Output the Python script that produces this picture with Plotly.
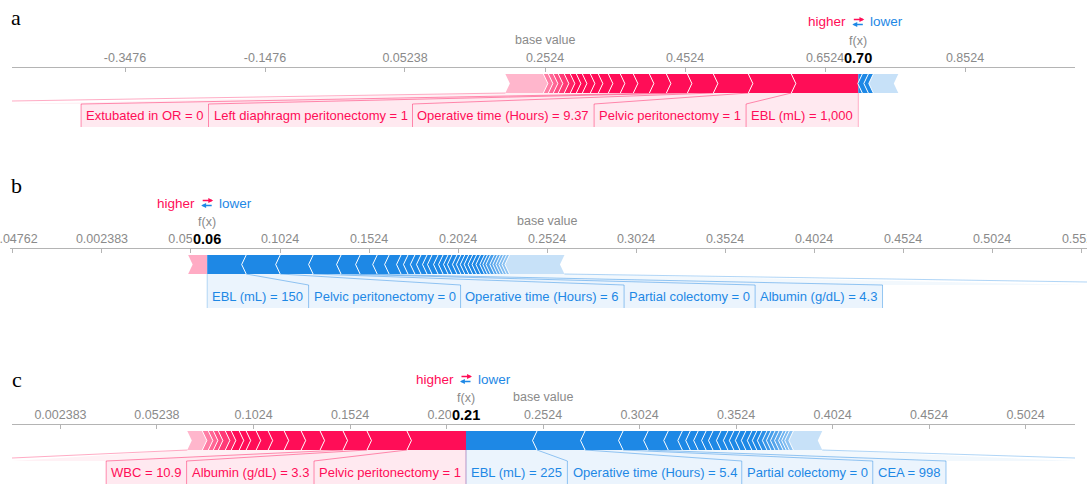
import plotly.graph_objects as go

# ---------------- data ----------------
# panel a
a_base_value = 0.2524
a_fx = 0.70
a_tick_values = [-0.3476, -0.1476, 0.05238, 0.2524, 0.4524, 0.6524, 0.8524]
a_tick_labels = ["-0.3476", "-0.1476", "0.05238", "0.2524", "0.4524", "0.6524", "0.8524"]
a_higher_labels = ["EBL (mL) = 1,000", "Pelvic peritonectomy = 1", "Operative time (Hours) = 9.37",
                   "Left diaphragm peritonectomy = 1", "Extubated in OR = 0"]
a_higher_values = [0.0957, 0.0614, 0.0500, 0.0371, 0.0300, 0.0243, 0.0229, 0.0186, 0.0171, 0.0143,
                   0.0114, 0.0114, 0.0086, 0.0086, 0.0086, 0.0086, 0.0071, 0.0071, 0.0071]
a_higher_other = 0.0543
a_lower_labels = []
a_lower_values = [0.0057, 0.0086, 0.0071]
a_lower_other = 0.0357

# panel b
b_base_value = 0.2524
b_fx = 0.0615
b_tick_values = [-0.04762, 0.002383, 0.05238, 0.1024, 0.1524, 0.2024, 0.2524, 0.3024, 0.3524,
                 0.4024, 0.4524, 0.5024, 0.5524]
b_tick_labels = ["-0.04762", "0.002383", "0.05238", "0.1024", "0.1524", "0.2024", "0.2524", "0.3024",
                 "0.3524", "0.4024", "0.4524", "0.5024", "0.5524"]
b_higher_labels = []
b_higher_values = []
b_higher_other = 0.0107
b_lower_labels = ["EBL (mL) = 150", "Pelvic peritonectomy = 0", "Operative time (Hours) = 6",
                  "Partial colectomy = 0", "Albumin (g/dL) = 4.3"]
b_lower_values = [0.0219, 0.0191, 0.0185, 0.0157, 0.0107, 0.0096, 0.0067, 0.0067, 0.0039, 0.0039,
                  0.0034, 0.0034, 0.0028, 0.0034, 0.0028, 0.0028, 0.0022, 0.0028, 0.0022, 0.0022,
                  0.0022, 0.0022, 0.0022, 0.0022, 0.0022, 0.0017, 0.0017, 0.0022, 0.0017, 0.0017,
                  0.0017, 0.0017, 0.0017]
b_lower_other = 0.0309

# panel c
c_base_value = 0.2524
c_fx = 0.2125
c_tick_values = [0.002383, 0.05238, 0.1024, 0.1524, 0.2024, 0.2524, 0.3024, 0.3524, 0.4024, 0.4524, 0.5024]
c_tick_labels = ["0.002383", "0.05238", "0.1024", "0.1524", "0.2024", "0.2524", "0.3024", "0.3524",
                 "0.4024", "0.4524", "0.5024"]
c_higher_labels = ["Pelvic peritonectomy = 1", "Albumin (g/dL) = 3.3", "WBC = 10.9"]
c_higher_values = [0.0306, 0.0207, 0.0124, 0.0119, 0.0098, 0.0088, 0.0083, 0.0062, 0.0052, 0.0036,
                   0.0041, 0.0031, 0.0036, 0.0026, 0.0026, 0.0031]
c_higher_other = 0.0078
c_lower_labels = ["EBL (mL) = 225", "Operative time (Hours) = 5.4", "Partial colectomy = 0", "CEA = 998"]
c_lower_values = [0.0368, 0.0249, 0.0197, 0.0130, 0.0104, 0.0073, 0.0041, 0.0041, 0.0041, 0.0036,
                  0.0041, 0.0036, 0.0031, 0.0031, 0.0031, 0.0031, 0.0026, 0.0026, 0.0026, 0.0021,
                  0.0021, 0.0021, 0.0021, 0.0016, 0.0016, 0.0021]
c_lower_other = 0.0150

panel_letters = ["a", "b", "c"]

# ---------------- style / layout ----------------
W, H = 1087, 485
RED = (255, 13, 87)
BLUE = (30, 136, 229)
FONT = "Liberation Sans, Arial, Helvetica, sans-serif"
LABEL_SIZE = 13
TIP = 4.5           # chevron depth in px
BAR_TOP, BAR_BOT = 6, 25
BAR_MID = (BAR_TOP + BAR_BOT) / 2
LAB_TOP, LAB_BOT, LAB_MID = 36, 59, 47.5

panels = [
    dict(base=a_base_value, fx=a_fx, tv=a_tick_values, tt=a_tick_labels,
         hl=a_higher_labels, hv=a_higher_values, ho=a_higher_other,
         ll=a_lower_labels, lv=a_lower_values, lo=a_lower_other,
         axis_px=68, bottom_px=150, k=700, base_px=545, dom=(12, 1075),
         fade_hi=5, fade_lo=0, tail_hi=0.30, tail_lo=0.25, letter_xy=(16, 18)),
    dict(base=b_base_value, fx=b_fx, tv=b_tick_values, tt=b_tick_labels,
         hl=b_higher_labels, hv=b_higher_values, ho=b_higher_other,
         ll=b_lower_labels, lv=b_lower_values, lo=b_lower_other,
         axis_px=249, bottom_px=331, k=1780, base_px=547, dom=(10, 1087),
         fade_hi=0, fade_lo=8, tail_hi=0.35, tail_lo=0.25, letter_xy=(16, 186)),
    dict(base=c_base_value, fx=c_fx, tv=c_tick_values, tt=c_tick_labels,
         hl=c_higher_labels, hv=c_higher_values, ho=c_higher_other,
         ll=c_lower_labels, lv=c_lower_values, lo=c_lower_other,
         axis_px=425, bottom_px=485, k=1930, base_px=543, dom=(12, 1075),
         fade_hi=5, fade_lo=8, tail_hi=0.30, tail_lo=0.25, letter_xy=(17, 379)),
]

ARIAL_W = {' ': 278, '(': 333, ')': 333, ',': 278, '-': 333, '.': 278, '/': 278, '=': 584}
for ch in "0123456789":
    ARIAL_W[ch] = 556
ARIAL_W.update(dict(zip("ABCDEFGHIJKLMNOPQRSTUVWXYZ",
                        [667, 667, 722, 722, 667, 611, 778, 722, 278, 500, 667, 556, 833, 722, 778, 667,
                         778, 722, 667, 611, 722, 667, 944, 667, 667, 611])))
ARIAL_W.update(dict(zip("abcdefghijklmnopqrstuvwxyz",
                        [556, 556, 500, 556, 556, 278, 556, 556, 222, 222, 500, 222, 833, 556, 556, 556,
                         556, 333, 500, 278, 556, 500, 722, 500, 500, 500])))


def text_w(s, size):
    return sum(ARIAL_W.get(ch, 556) for ch in s) * size / 1000.0


def rgba(c, a):
    return f"rgba({c[0]},{c[1]},{c[2]},{a:.3f})"


def alphas(n, n_fade):
    al = [1.0] * n
    n_fade = min(n_fade, n)
    for m in range(n_fade):
        al[n - n_fade + m] = 1.0 - 0.55 * (m + 1) / (n_fade + 1)
    return al


fig = go.Figure()
annotations = []
layout_axes = {}


def poly(xs, ys, xr, yr, fill, line_color=None, line_width=0):
    fig.add_trace(go.Scatter(
        x=xs, y=ys, xaxis=xr, yaxis=yr, mode="lines", fill="toself", fillcolor=fill,
        line=dict(width=line_width, color=line_color or "rgba(0,0,0,0)"),
        hoverinfo="skip", showlegend=False))


def lines(xs, ys, xr, yr, color, width=1):
    fig.add_trace(go.Scatter(
        x=xs, y=ys, xaxis=xr, yaxis=yr, mode="lines", line=dict(width=width, color=color),
        hoverinfo="skip", showlegend=False))


for i, p in enumerate(panels, start=1):
    xr = "x" if i == 1 else f"x{i}"
    yr = "y" if i == 1 else f"y{i}"
    base, fx, k, bpx = p["base"], p["fx"], p["k"], p["base_px"]
    ab, bb = p["axis_px"], p["bottom_px"]

    def px2x(px, base=base, bpx=bpx, k=k):
        return base + (px - bpx) / k

    def above(off, ab=ab):
        # paper y for a point `off` px above the axis line
        return 1 - (ab - off) / H

    t = TIP / k
    fx_px = bpx + (fx - base) * k
    d0, d1 = p["dom"]
    x_left, x_right = px2x(d0), px2x(d1)

    # ---- segments ----
    red = []
    cum = fx
    for v in p["hv"]:
        red.append((cum - v, cum))
        cum -= v
    red_main = len(red)
    if p["ho"] > 0:
        red.append((cum - p["ho"], cum))
    red_al = alphas(red_main, p["fade_hi"]) + ([p["tail_hi"]] if p["ho"] > 0 else [])

    blue = []
    cum = fx
    for v in p["lv"]:
        blue.append((cum, cum + v))
        cum += v
    blue_main = len(blue)
    if p["lo"] > 0:
        blue.append((cum, cum + p["lo"]))
    blue_al = alphas(blue_main, p["fade_lo"]) + ([p["tail_lo"]] if p["lo"] > 0 else [])

    # ---- label connectors (drawn first) ----
    cur = fx_px
    n_hl = len(p["hl"])
    last_l = None
    for j, lab in enumerate(p["hl"]):
        w = text_w(lab, LABEL_SIZE) + 10
        r, l = cur, cur - w
        cur = l
        s0, s1 = red[j]
        xl, xrr = px2x(l), px2x(r)
        poly([s0, s1, xrr, xrr, xl, xl], [BAR_BOT, BAR_BOT, LAB_TOP, LAB_BOT, LAB_BOT, LAB_TOP],
             xr, yr, rgba(RED, 0.09))
        lines([xl, xl, s0], [LAB_BOT, LAB_TOP, BAR_BOT], xr, yr, rgba(RED, 0.45))
        if j == 0:
            lines([xrr, xrr, s1], [LAB_BOT, LAB_TOP, BAR_BOT], xr, yr, rgba(RED, 0.3))
        annotations.append(dict(x=(xl + xrr) / 2, y=LAB_MID, xref=xr, yref=yr, text=lab, showarrow=False,
                                font=dict(size=LABEL_SIZE, color=rgba(RED, 1), family=FONT)))
        last_l = xl
    if n_hl > 0 and len(red) > n_hl:
        rs = red[-1][0]
        re_ = red[n_hl - 1][0]
        poly([rs, re_, last_l, x_left], [BAR_BOT, BAR_BOT, LAB_TOP, LAB_TOP], xr, yr, rgba(RED, 0.06))
        lines([x_left, rs], [LAB_TOP - 3, BAR_BOT], xr, yr, rgba(RED, 0.35))

    cur = fx_px
    n_ll = len(p["ll"])
    last_r = None
    for j, lab in enumerate(p["ll"]):
        w = text_w(lab, LABEL_SIZE) + 10
        l, r = cur, cur + w
        cur = r
        s0, s1 = blue[j]
        xl, xrr = px2x(l), px2x(r)
        poly([s0, s1, xrr, xrr, xl, xl], [BAR_BOT, BAR_BOT, LAB_TOP, LAB_BOT, LAB_BOT, LAB_TOP],
             xr, yr, rgba(BLUE, 0.09))
        lines([xrr, xrr, s1], [LAB_BOT, LAB_TOP, BAR_BOT], xr, yr, rgba(BLUE, 0.45))
        if j == 0:
            lines([xl, xl, s0], [LAB_BOT, LAB_TOP, BAR_BOT], xr, yr, rgba(BLUE, 0.3))
        annotations.append(dict(x=(xl + xrr) / 2, y=LAB_MID, xref=xr, yref=yr, text=lab, showarrow=False,
                                font=dict(size=LABEL_SIZE, color=rgba(BLUE, 1), family=FONT)))
        last_r = xrr
    if n_ll > 0 and len(blue) > n_ll:
        be = blue[-1][1]
        bs = blue[n_ll - 1][1]
        poly([bs, be, x_right, last_r], [BAR_BOT, BAR_BOT, LAB_TOP, LAB_TOP], xr, yr, rgba(BLUE, 0.06))
        lines([be, x_right], [BAR_BOT, LAB_TOP - 3], xr, yr, rgba(BLUE, 0.35))

    # ---- bars ----
    chev_x, chev_y = [], []
    for j, (x0, x1) in enumerate(red):
        xs, ys = [x0, x1], [BAR_TOP, BAR_TOP]
        if j == 0:
            xs += [x1]
            ys += [BAR_BOT]
        else:
            xs += [x1 + t, x1]
            ys += [BAR_MID, BAR_BOT]
            chev_x += [x1, x1 + t, x1, None]
            chev_y += [BAR_TOP, BAR_MID, BAR_BOT, None]
        xs += [x0, x0 + t]
        ys += [BAR_BOT, BAR_MID]
        poly(xs, ys, xr, yr, rgba(RED, red_al[j]))
    for j, (x0, x1) in enumerate(blue):
        xs, ys = [x0, x1, x1 - t, x1, x0], [BAR_TOP, BAR_TOP, BAR_MID, BAR_BOT, BAR_BOT]
        if j > 0:
            xs += [x0 - t]
            ys += [BAR_MID]
            chev_x += [x0, x0 - t, x0, None]
            chev_y += [BAR_TOP, BAR_MID, BAR_BOT, None]
        poly(xs, ys, xr, yr, rgba(BLUE, blue_al[j]))
    lines(chev_x, chev_y, xr, yr, "rgba(255,255,255,0.95)", 1)

    # ---- axis texts (paper y, data x) ----
    common = dict(xref=xr, yref="paper", showarrow=False, xanchor="center", yanchor="middle")
    annotations.append(dict(x=base, y=above(28), text="base value",
                            font=dict(size=12.5, color="#8a8a8a", family=FONT), **common))
    annotations.append(dict(x=fx, y=above(27), text="f(x)",
                            font=dict(size=12.5, color="#8a8a8a", family=FONT), **common))
    annotations.append(dict(x=fx, y=above(10.5), text=f"<b>{fx:.2f}</b>", bgcolor="white", borderpad=0,
                            font=dict(size=14.5, color="#000000", family=FONT), **common))
    annotations.append(dict(x=fx, y=above(46), xref=xr, yref="paper", text="higher", showarrow=False,
                            xanchor="right", yanchor="middle", xshift=-10,
                            font=dict(size=13.5, color=rgba(RED, 1), family=FONT)))
    annotations.append(dict(x=fx, y=above(46), xref=xr, yref="paper", text="lower", showarrow=False,
                            xanchor="left", yanchor="middle", xshift=10,
                            font=dict(size=13.5, color=rgba(BLUE, 1), family=FONT)))
    annotations.append(dict(x=fx, y=above(48.5), xref=xr, yref="paper", text="", showarrow=True,
                            xshift=6, ax=-12, ay=0, arrowhead=2, arrowsize=0.7, arrowwidth=1.4,
                            arrowcolor=rgba(RED, 1)))
    annotations.append(dict(x=fx, y=above(43.5), xref=xr, yref="paper", text="", showarrow=True,
                            xshift=-6, ax=12, ay=0, arrowhead=2, arrowsize=0.7, arrowwidth=1.4,
                            arrowcolor=rgba(BLUE, 1)))
    lx, ly = p["letter_xy"]
    annotations.append(dict(x=lx / W, y=1 - ly / H, xref="paper", yref="paper", text=panel_letters[i - 1],
                            showarrow=False, xanchor="center", yanchor="middle",
                            font=dict(size=22, color="black",
                                      family="Liberation Serif, Times New Roman, serif")))

    xkey = "xaxis" if i == 1 else f"xaxis{i}"
    ykey = "yaxis" if i == 1 else f"yaxis{i}"
    layout_axes[xkey] = dict(domain=[d0 / W, d1 / W], range=[x_left, x_right], anchor=yr, side="top",
                             showline=True, linecolor="#b4b4b4", linewidth=1, ticks="inside", ticklen=4,
                             tickcolor="#b4b4b4", tickvals=p["tv"], ticktext=p["tt"],
                             tickfont=dict(size=12.5, color="#8a8a8a", family=FONT),
                             showgrid=False, zeroline=False, fixedrange=True,
                             ticklabeloverflow="allow", automargin=False)
    layout_axes[ykey] = dict(domain=[1 - bb / H, 1 - ab / H], range=[bb - ab, 0], anchor=xr,
                             visible=False, fixedrange=True)

fig.update_layout(width=W, height=H, margin=dict(l=0, r=0, t=0, b=0), paper_bgcolor="white",
                  plot_bgcolor="white", showlegend=False, font=dict(family=FONT),
                  annotations=annotations, **layout_axes)
fig.write_html("out.html", config={"displayModeBar": False},
               post_script="document.body.style.margin='0';document.body.style.overflow='hidden';")
